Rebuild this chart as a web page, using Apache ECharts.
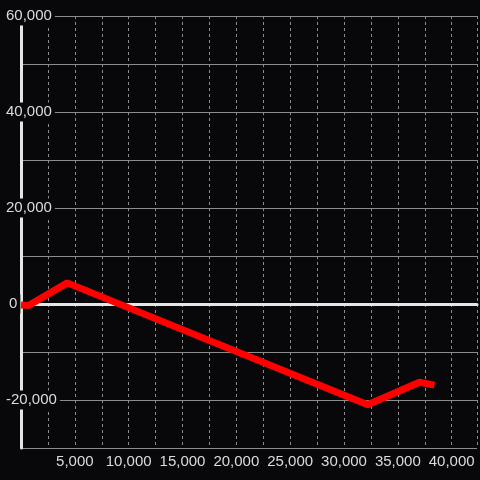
<!DOCTYPE html>
<html>
<head>
<meta charset="utf-8">
<script src="https://cdn.jsdelivr.net/npm/echarts@6/dist/echarts.min.js"></script>
<style>
  html, body { margin: 0; padding: 0; background: #08080b; }
  #chart { width: 480px; height: 480px; }
</style>
</head>
<body>
<div id="chart"></div>
<script>
// data
var xValues = [0, 700, 4300, 32200, 37000, 38400];
var yValues = [-200, -300, 4400, -21000, -16300, -16900];
var yTicks = [-30000, 60000, 10000];   // min, max, step
var xTicks = [0, 42350, 2500];

var points = xValues.map(function (x, i) { return [x, yValues[i]]; });

var bg = '#08080b';
var myChart = echarts.init(document.getElementById('chart'));
var option = {
    backgroundColor: bg,
    animation: false,
    grid: { left: 21, right: 0, top: 16, bottom: 32, containLabel: false },
    xAxis: [{
        type: 'value',
        min: xTicks[0],
        max: xTicks[1],
        interval: xTicks[2],
        position: 'bottom',
        axisLine: { show: false, onZero: false },
        axisTick: { show: false },
        splitLine: {
            show: true,
            lineStyle: { color: '#8c8c8c', width: 1, type: [3, 3] }
        },
        axisLabel: {
            margin: 6,
            color: '#dcdcdc',
            fontFamily: 'Liberation Sans, Arial, sans-serif',
            fontSize: 15,
            formatter: function (v) {
                if (v === 0 || v % 5000 !== 0) return '';
                return v.toLocaleString('en-US');
            }
        }
    }, {
        // white zero line
        type: 'value',
        min: xTicks[0],
        max: xTicks[1],
        position: 'top',
        axisLine: { show: true, onZero: true, lineStyle: { color: '#e6e6e6', width: 3 } },
        axisTick: { show: false },
        axisLabel: { show: false },
        splitLine: { show: false }
    }],
    yAxis: {
        type: 'value',
        min: yTicks[0],
        max: yTicks[1],
        interval: yTicks[2],
        axisLine: { show: true, lineStyle: { color: '#e6e6e6', width: 3 } },
        axisTick: { show: false },
        splitLine: { show: true, lineStyle: { color: '#8c8c8c', width: 1 } },
        axisLabel: {
            align: 'left',
            margin: 15,
            color: '#dcdcdc',
            fontFamily: 'Liberation Sans, Arial, sans-serif',
            fontSize: 15,
            backgroundColor: bg,
            padding: [2, 3, 2, 0],
            formatter: function (v) {
                if (v % 20000 !== 0) return '';
                if (v === 0) return '{z|0}';
                return v.toLocaleString('en-US');
            },
            rich: { z: { padding: [0, 0, 0, 3], color: '#dcdcdc', fontSize: 15 } }
        }
    },
    series: [{
        type: 'line',
        xAxisIndex: 0,
        data: points,
        symbol: 'none',
        z: 5,
        lineStyle: { color: '#ff0000', width: 7 }
    }]
};
myChart.setOption(option);
</script>
</body>
</html>
